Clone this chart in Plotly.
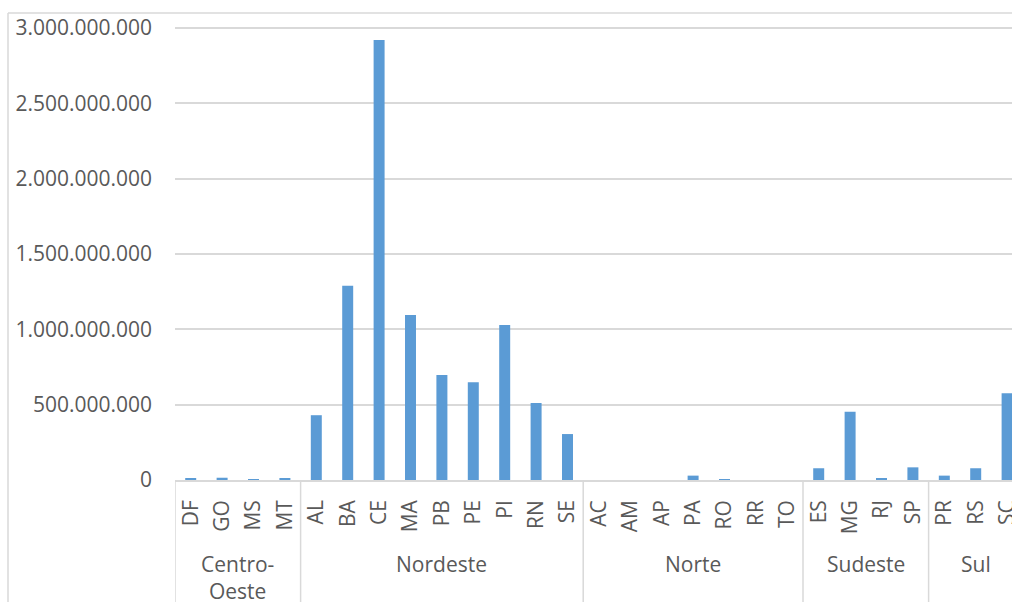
import plotly.graph_objects as go

# Regions and their states, in axis order
regions = ["Centro-Oeste", "Nordeste", "Norte", "Sudeste", "Sul"]
region_labels = ["Centro-<br>Oeste", "Nordeste", "Norte", "Sudeste", "Sul"]
states_by_region = [
    ["DF", "GO", "MS", "MT"],
    ["AL", "BA", "CE", "MA", "PB", "PE", "PI", "RN", "SE"],
    ["AC", "AM", "AP", "PA", "RO", "RR", "TO"],
    ["ES", "MG", "RJ", "SP"],
    ["PR", "RS", "SC"],
]
values_by_region = [
    [8e6, 15e6, 3e6, 10e6],
    [430e6, 1290e6, 2921e6, 1095e6, 697e6, 649e6, 1029e6, 511e6, 305e6],
    [0, 0, 0, 29e6, 6e6, 0, 0],
    [78e6, 453e6, 10e6, 84e6],
    [29e6, 78e6, 575e6],
]
y_ticks = [0, 500e6, 1000e6, 1500e6, 2000e6, 2500e6, 3000e6]

states = [s for grp in states_by_region for s in grp]
values = [v for grp in values_by_region for v in grp]

FONT = "Open Sans"
TXT = "#595959"
GRID = "#D9D9D9"

fig = go.Figure(
    go.Bar(
        x=states,
        y=values,
        marker=dict(color="#5B9BD5", line=dict(width=0)),
        hoverinfo="x+y",
    )
)

# plot area geometry (pixels)
W, H = 1012, 602
L, R, T, B = 175, 0, 20, 122
plot_w = W - L - R
plot_h = H - T - B
cat_px = 31.4
x_right = plot_w / cat_px - 0.5

shapes = []
# group dividers below the axis
bounds = [-0.5]
pos = -0.5
for grp in states_by_region:
    pos += len(grp)
    bounds.append(pos)
for b in bounds:
    if b < x_right:
        shapes.append(dict(type="line", xref="x", yref="paper",
                           x0=b, x1=b, y0=0, y1=-(B + 5) / plot_h,
                           line=dict(color=GRID, width=1.5)))

# chart frame (left and top edges)
fx = (8 - L) / plot_w
fy_top = (plot_h + T - 13) / plot_h
shapes.append(dict(type="line", xref="paper", yref="paper",
                   x0=fx, x1=1.05, y0=fy_top, y1=fy_top,
                   line=dict(color=GRID, width=1.5)))
shapes.append(dict(type="line", xref="paper", yref="paper",
                   x0=fx, x1=fx, y0=fy_top, y1=-(B + 5) / plot_h,
                   line=dict(color=GRID, width=1.5)))

# region labels centred on their groups
annotations = []
start = 0
for label, grp in zip(region_labels, states_by_region):
    centre = start + (len(grp) - 1) / 2
    start += len(grp)
    py = 577 if "<br>" in label else 564
    annotations.append(dict(
        x=centre, xref="x", y=(480 - py) / plot_h, yref="paper",
        text=label, showarrow=False, xanchor="center", yanchor="middle",
        align="center",
        font=dict(family=FONT, size=21, color=TXT),
    ))

fig.update_layout(
    width=W, height=H,
    margin=dict(l=L, r=R, t=T, b=B, pad=0, autoexpand=False),
    paper_bgcolor="white", plot_bgcolor="white",
    bargap=0.65,
    showlegend=False,
    separators=",.",
    shapes=shapes,
    annotations=annotations,
    xaxis=dict(
        type="category",
        range=[-0.5, x_right],
        automargin=False,
        tickangle=-90,
        tickfont=dict(family=FONT, size=21, color=TXT),
        showline=True, linecolor=GRID, linewidth=1.5,
        showgrid=False, ticks="",
        ticklabelstandoff=10,
    ),
    yaxis=dict(
        range=[0, plot_h / 150.67 * 1e9],
        automargin=False,
        tickvals=y_ticks,
        tickformat=",.0f",
        tickfont=dict(family=FONT, size=21, color=TXT),
        gridcolor=GRID, gridwidth=1.5,
        zeroline=False, showline=False, ticks="",
        ticklabelstandoff=22,
    ),
)

fig.write_html("out.html")
